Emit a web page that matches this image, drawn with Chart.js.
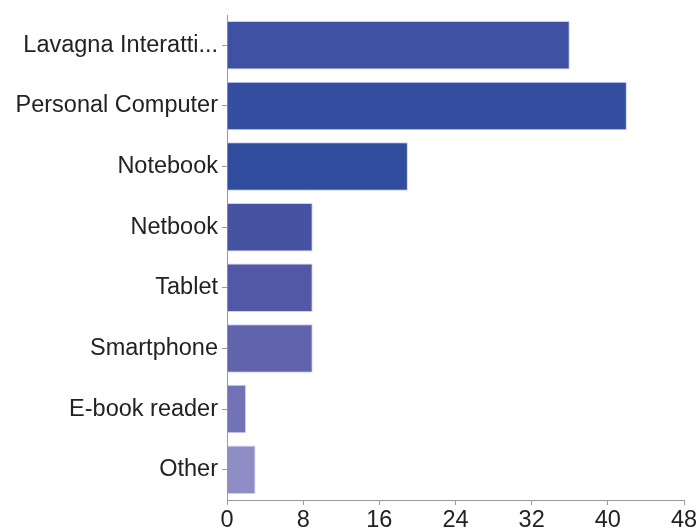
<!DOCTYPE html>
<html>
<head>
<meta charset="utf-8">
<script src="https://cdn.jsdelivr.net/npm/chart.js@4"></script>
<style>
    html, body { margin: 0; padding: 0; background: #fff; }
    #wrap { width: 699px; height: 531px; }
</style>
</head>
<body>
<div id="wrap"><canvas id="devicesChart" width="699" height="531"></canvas></div>
<script>
// Chart data
const categories = [
    "Lavagna Interatti...",
    "Personal Computer",
    "Notebook",
    "Netbook",
    "Tablet",
    "Smartphone",
    "E-book reader",
    "Other",
];
const counts = [36, 42, 19, 9, 9, 9, 2, 3];
const barColors = [
    "#3f51a2",
    "#344ea0",
    "#304c9c",
    "#4652a2",
    "#5258a5",
    "#6163ad",
    "#7272b8",
    "#8e8dc6",
];
const xTicks = [0, 8, 16, 24, 32, 40, 48];

const axisColor = "#999999";
const labelFont = { family: "'Liberation Sans', Arial, Helvetica, sans-serif", size: 23.5 };

new Chart(document.getElementById("devicesChart"), {
    type: "bar",
    data: {
        labels: categories,
        datasets: [
            {
                data: counts,
                backgroundColor: barColors,
                borderColor: "rgba(200, 204, 240, 0.9)",
                borderWidth: 1,
                categoryPercentage: 0.8,
                barPercentage: 1,
            },
        ],
    },
    options: {
        indexAxis: "y",
        responsive: false,
        animation: false,
        layout: { padding: { top: 15, right: 15, bottom: 0, left: 0 } },
        plugins: {
            legend: { display: false },
            tooltip: { enabled: false },
        },
        scales: {
            x: {
                min: 0,
                max: 48,
                afterBuildTicks: (scale) => {
                    scale.ticks = xTicks.map((v) => ({ value: v }));
                },
                afterFit: (scale) => {
                    scale.height = 31;
                },
                grid: {
                    drawOnChartArea: false,
                    tickLength: 5,
                    color: axisColor,
                },
                border: { display: true, color: axisColor },
                ticks: {
                    color: "#222",
                    font: labelFont,
                    padding: 1,
                    maxRotation: 0,
                },
            },
            y: {
                afterFit: (scale) => {
                    scale.width = 227;
                    // labels sit inside the category bands, no extra room needed
                    scale.paddingTop = 0;
                    scale.paddingBottom = 0;
                },
                grid: {
                    drawOnChartArea: false,
                    tickLength: 5,
                    color: axisColor,
                    offset: false,
                },
                border: { display: true, color: axisColor },
                ticks: {
                    color: "#222",
                    font: labelFont,
                    padding: 4,
                },
            },
        },
    },
});
</script>
</body>
</html>
